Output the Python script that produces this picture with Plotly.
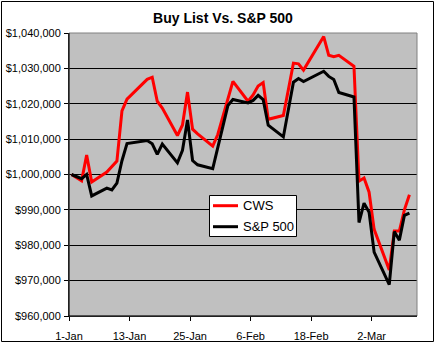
import plotly.graph_objects as go
import pandas as pd

dates = ["2007-01-01", "2007-01-03", "2007-01-04", "2007-01-05", "2007-01-08", "2007-01-09",
         "2007-01-10", "2007-01-11", "2007-01-12", "2007-01-16", "2007-01-17", "2007-01-18",
         "2007-01-19", "2007-01-22", "2007-01-23", "2007-01-24", "2007-01-25", "2007-01-26",
         "2007-01-29", "2007-01-30", "2007-01-31", "2007-02-01", "2007-02-02", "2007-02-05",
         "2007-02-06", "2007-02-07", "2007-02-08", "2007-02-09", "2007-02-12", "2007-02-13",
         "2007-02-14", "2007-02-15", "2007-02-16", "2007-02-20", "2007-02-21", "2007-02-22",
         "2007-02-23", "2007-02-26", "2007-02-27", "2007-02-28", "2007-03-01", "2007-03-02",
         "2007-03-05", "2007-03-06", "2007-03-07", "2007-03-08", "2007-03-09"]

cws = [1000000, 998200, 1005500, 997900, 1000700, 1002300,
       1003800, 1018000, 1021300, 1026900, 1027500, 1020700,
       1018800, 1011000, 1014000, 1023300, 1012800, 1011500,
       1008000, 1011300, 1016500, 1021500, 1026300, 1020700,
       1022500, 1025000, 1026000, 1015600, 1016700, 1024000,
       1031500, 1031300, 1029500, 1039000, 1033700, 1033300,
       1033700, 1030600, 998100, 999000, 995000, 984500,
       973000, 984000, 984000, 990000, 994300]

sp500 = [1000000, 998800, 1000030, 993940, 996150, 995640,
         997570, 1003890, 1008770, 1009600, 1008690, 1005690,
         1008600, 1003280, 1006830, 1015390, 1003950, 1002740,
         1001640, 1007420, 1014060, 1019490, 1021220, 1020230,
         1020940, 1022370, 1021160, 1013930, 1010630, 1018300,
         1026090, 1027150, 1026260, 1029180, 1027730, 1026850,
         1023190, 1021910, 986420, 991910, 989340, 978060,
         968860, 983870, 981440, 988440, 989110]

series_names = ["CWS", "S&P 500"]
series_colors = ["#FF0000", "#000000"]

tick_dates = ["2007-01-01", "2007-01-13", "2007-01-25", "2007-02-06", "2007-02-18", "2007-03-02"]
tick_text = ["1-Jan", "13-Jan", "25-Jan", "6-Feb", "18-Feb", "2-Mar"]

W, H = 442, 349
ML, MR, MT, MB = 69, 25, 33, 33
PW, PH = W - ML - MR, H - MT - MB

def px_x(p):
    return (p - ML) / PW

def px_y(p):
    return (H - MB - p) / PH

x = pd.to_datetime(dates) + pd.Timedelta(hours=12)
FONT = "Liberation Sans, Arial, sans-serif"

fig = go.Figure()
for name, vals, col in zip(series_names, [cws, sp500], series_colors):
    fig.add_trace(go.Scatter(x=x, y=vals, mode="lines", name=name,
                             line=dict(color=col, width=3)))

fig.update_layout(
    width=W, height=H,
    margin=dict(l=ML, r=MR, t=MT, b=MB, autoexpand=False),
    paper_bgcolor="white",
    plot_bgcolor="#C0C0C0",
    font=dict(family=FONT, size=11, color="black"),
    title=dict(text="Buy List Vs. S&P 500", x=223 / W, xref="container",
               y=1 - 18.5 / H, yref="container", xanchor="center", yanchor="middle",
               font=dict(family=FONT, size=14, color="black", weight="bold")),
    showlegend=False,
    xaxis=dict(type="date", range=["2007-01-01", "2007-03-11"],
               tickvals=tick_dates, ticktext=tick_text, automargin=False,
               showgrid=False, showline=True, linecolor="black", linewidth=1,
               ticks="outside", ticklen=4, tickcolor="black", ticklabelstandoff=6,
               tickfont=dict(family=FONT, size=11), zeroline=False),
    yaxis=dict(range=[960000, 1040000], dtick=10000, tick0=960000,
               tickprefix="$", tickformat=",d", automargin=False,
               showgrid=True, gridcolor="black", gridwidth=1,
               showline=True, linecolor="black", linewidth=1,
               ticks="outside", ticklen=4, tickcolor="black", ticklabelstandoff=1,
               tickfont=dict(family=FONT, size=11), zeroline=False),
)

# plot area border (grey) and outer chart border (black)
fig.add_shape(type="rect", xref="paper", yref="paper", x0=0, x1=1, y0=0, y1=1,
              line=dict(color="#808080", width=1), layer="above")
fig.add_shape(type="line", xref="paper", yref="paper", x0=0, x1=0, y0=0, y1=1,
              line=dict(color="black", width=1), layer="above")
fig.add_shape(type="line", xref="paper", yref="paper", x0=0, x1=1, y0=0, y1=0,
              line=dict(color="black", width=1), layer="above")
fig.add_shape(type="rect", xref="paper", yref="paper",
              x0=px_x(1.5), x1=px_x(433.5), y0=px_y(341.5), y1=px_y(1.5),
              line=dict(color="black", width=1), layer="above")

# legend box drawn by hand to match the original placement
fig.add_shape(type="rect", xref="paper", yref="paper",
              x0=px_x(209.5), x1=px_x(296.5), y0=px_y(236.5), y1=px_y(195.5),
              fillcolor="white", line=dict(color="black", width=1), layer="above")
for i, (name, col) in enumerate(zip(series_names, series_colors)):
    yy = 205.7 + 21 * i
    fig.add_shape(type="line", xref="paper", yref="paper",
                  x0=px_x(213), x1=px_x(238), y0=px_y(yy), y1=px_y(yy),
                  line=dict(color=col, width=3), layer="above")
    fig.add_annotation(xref="paper", yref="paper", x=px_x(240.5), y=px_y(yy),
                       text=name, showarrow=False, xanchor="left", yanchor="middle",
                       font=dict(family=FONT, size=13, color="black"))

fig.write_html("out.html")
